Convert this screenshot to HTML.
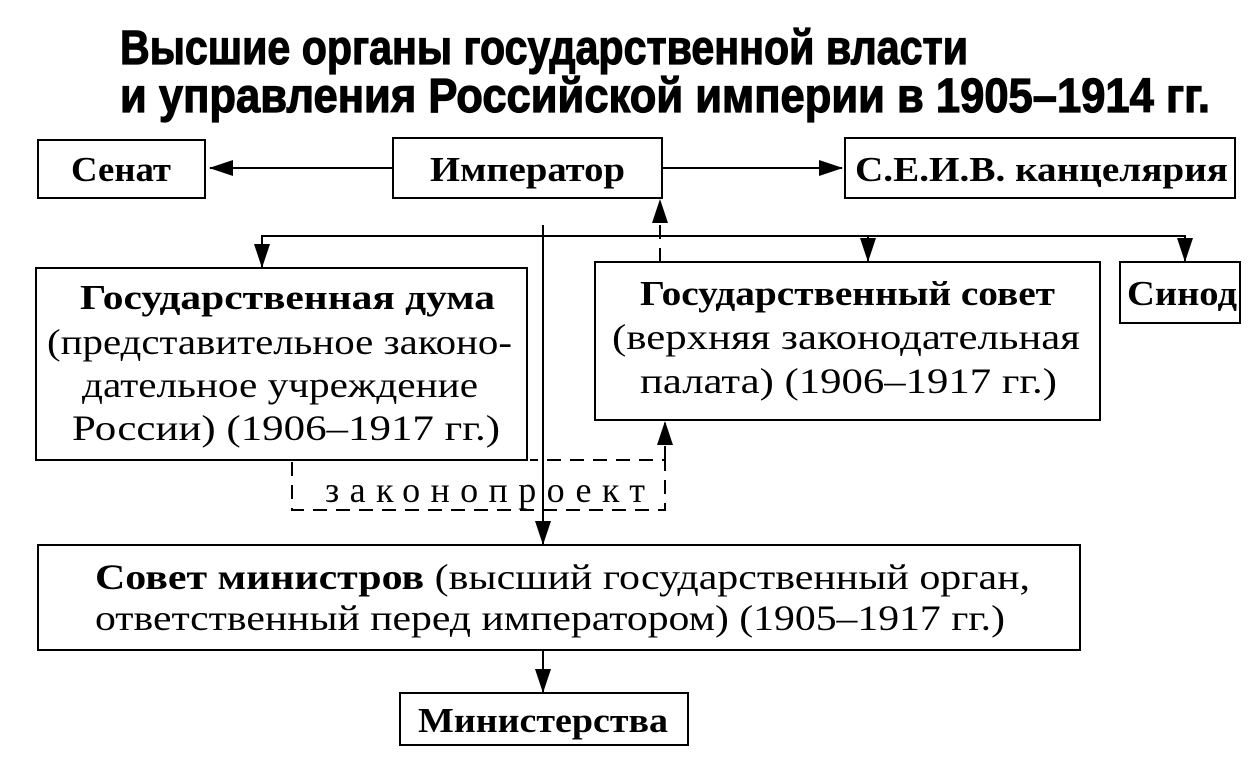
<!DOCTYPE html>
<html><head><meta charset="utf-8"><style>
html,body{margin:0;padding:0;background:#fff;}
svg{display:block;}
.t{font-family:"Liberation Sans",sans-serif;font-weight:bold;font-size:48px;stroke:#000;stroke-width:1.2px;}
.b{font-family:"Liberation Serif",serif;font-weight:bold;font-size:35px;}
.r{font-family:"Liberation Serif",serif;font-size:36px;}
</style></head><body>
<svg width="1251" height="766" viewBox="0 0 1251 766" xmlns="http://www.w3.org/2000/svg">
<defs>
<marker id="a" markerWidth="24" markerHeight="16" refX="23" refY="8" orient="auto" markerUnits="userSpaceOnUse">
<path d="M0,0 L24,8 L0,16 Z" fill="#000"/></marker>
</defs>
<text class="t" x="120" y="64" textLength="848" lengthAdjust="spacingAndGlyphs">Высшие органы государственной власти</text>
<text class="t" x="120" y="112" textLength="1090" lengthAdjust="spacingAndGlyphs">и управления Российской империи в 1905–1914 гг.</text>

<g fill="none" stroke="#000" stroke-width="2">
<rect x="38" y="140" width="167" height="58"/>
<rect x="393" y="138" width="269" height="60"/>
<rect x="845" y="138" width="390" height="60"/>
<rect x="36" y="268" width="491" height="192"/>
<rect x="595" y="262" width="505" height="158"/>
<rect x="1120" y="262" width="120" height="61"/>
<rect x="38" y="545" width="1042" height="105"/>
<rect x="400" y="693" width="288" height="52"/>
<line x1="393" y1="168" x2="210" y2="168" marker-end="url(#a)"/>
<line x1="662" y1="168" x2="842" y2="168" marker-end="url(#a)"/>
<polyline points="262,266 262,236 1185,236 1185,260"/>
<line x1="262" y1="236" x2="262" y2="267" marker-end="url(#a)"/>
<line x1="868" y1="236" x2="868" y2="261" marker-end="url(#a)"/>
<line x1="1185" y1="236" x2="1185" y2="261" marker-end="url(#a)"/>
<line x1="543" y1="225" x2="543" y2="544" marker-end="url(#a)"/>
<line x1="543" y1="650" x2="543" y2="692" marker-end="url(#a)"/>
<g stroke-dasharray="14,9">
<line x1="660" y1="262" x2="660" y2="200" marker-end="url(#a)"/>
<polyline points="292,462 292,510 665,510 665,460 530,460"/>
<line x1="665" y1="460" x2="665" y2="422" marker-end="url(#a)"/>
</g>
</g>

<text class="b" x="71" y="181" textLength="100" lengthAdjust="spacingAndGlyphs">Сенат</text>
<text class="b" x="430" y="181" textLength="195" lengthAdjust="spacingAndGlyphs">Император</text>
<text class="b" x="855" y="181" textLength="373" lengthAdjust="spacingAndGlyphs">С.Е.И.В. канцелярия</text>

<text class="b" x="80" y="309" textLength="415" lengthAdjust="spacingAndGlyphs">Государственная дума</text>
<text class="r" x="47" y="354" textLength="465" lengthAdjust="spacingAndGlyphs">(представительное законо-</text>
<text class="r" x="82" y="397" textLength="396" lengthAdjust="spacingAndGlyphs">дательное учреждение</text>
<text class="r" x="72" y="440" textLength="428" lengthAdjust="spacingAndGlyphs">России) (1906–1917 гг.)</text>

<text class="b" x="640" y="305" textLength="415" lengthAdjust="spacingAndGlyphs">Государственный совет</text>
<text class="r" x="612" y="349" textLength="468" lengthAdjust="spacingAndGlyphs">(верхняя законодательная</text>
<text class="r" x="640" y="393" textLength="417" lengthAdjust="spacingAndGlyphs">палата) (1906–1917 гг.)</text>

<text class="b" x="1127" y="305" textLength="110" lengthAdjust="spacingAndGlyphs">Синод</text>

<text class="r" x="325" y="502" textLength="320" lengthAdjust="spacing">законопроект</text>

<text x="95" y="589" textLength="935" lengthAdjust="spacingAndGlyphs" style="font-family:'Liberation Serif',serif;font-size:36px"><tspan font-weight="bold">Совет министров</tspan> (высший государственный орган,</text>
<text class="r" x="95" y="630" textLength="910" lengthAdjust="spacingAndGlyphs">ответственный перед императором) (1905–1917 гг.)</text>

<text class="b" x="418" y="732" textLength="250" lengthAdjust="spacingAndGlyphs">Министерства</text>
</svg>
</body></html>
